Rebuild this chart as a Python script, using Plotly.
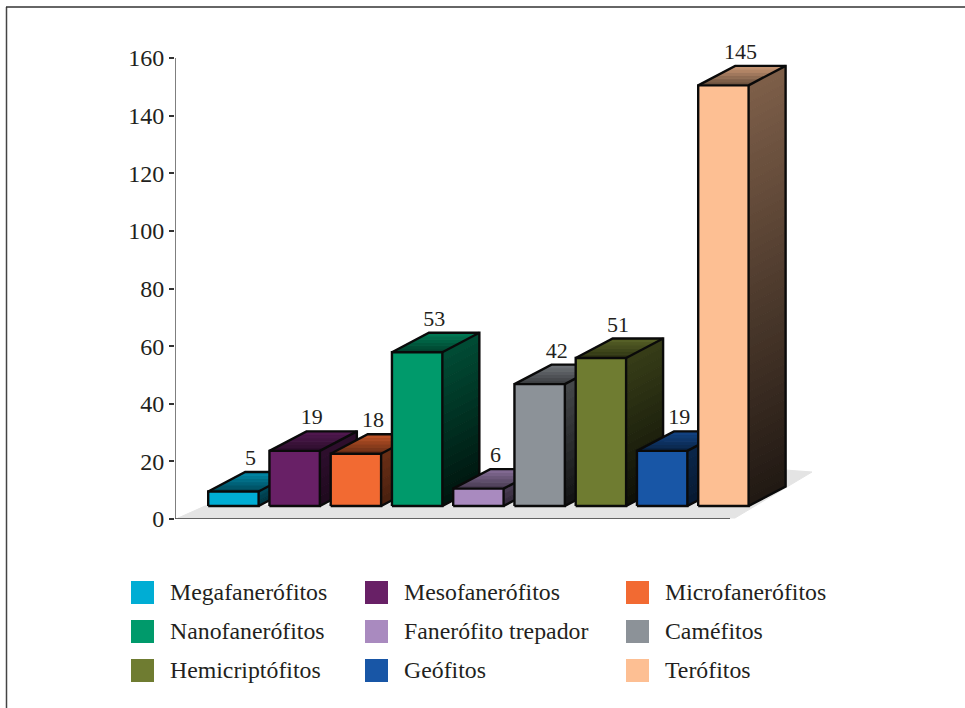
import plotly.graph_objects as go

categories = ["Megafanerófitos", "Mesofanerófitos", "Microfanerófitos",
              "Nanofanerófitos", "Fanerófito trepador", "Caméfitos",
              "Hemicriptófitos", "Geófitos", "Terófitos"]
values = [5, 19, 18, 53, 6, 42, 51, 19, 145]
colors = ["#00add4", "#682066", "#f26a32", "#009a6b", "#a98abf",
          "#8c9298", "#6f7c31", "#1856a6", "#fdbf93"]
y_ticks = [0, 20, 40, 60, 80, 100, 120, 140, 160]

W, H = 965, 708
L, R, T, B = 175, 730, 58, 519   # visible axes box, px
PR, PT = 830, 30                 # extended drawing area, px
SCALE = 160 / (B - T)            # y units per px
SLOT = 61.25          # px per category slot
FIRST = 233.4         # px centre of first category
HALF = 25.2 / SLOT    # half bar width
DX = 37 / SLOT        # depth in slots
DY = 19.5 * SCALE     # depth in y units
BASE = 4.5            # floor lift in y units
STRETCH = 1.007       # drawn height per unit of value
FONT = "Liberation Serif"
INK = "#231f20"


def rgb(c):
    return tuple(int(c[i:i + 2], 16) for i in (1, 3, 5))


def shade(c, f):
    r, g, b = rgb(c)
    return "rgb(%d,%d,%d)" % (r * f, g * f, b * f)


def mix(a, b, t):
    return a + (b - a) * t


def poly(xs, ys, color):
    return go.Scatter(x=xs + xs[:1], y=ys + ys[:1], mode="lines", fill="toself",
                      fillcolor=color, line=dict(width=1, color=color),
                      cliponaxis=False, hoverinfo="skip", showlegend=False)


def outline(xs, ys, width=2.4, color="#0a0a0a"):
    return go.Scatter(x=xs, y=ys, mode="lines", line=dict(width=width, color=color),
                      cliponaxis=False, hoverinfo="skip", showlegend=False)


fig = go.Figure()

px = lambda p: (p - FIRST) / SLOT
py = lambda p: (B - p) * SCALE

# floor
fig.add_trace(poly([px(178), px(735), px(812), px(785), px(750), px(205)],
                   [py(518), py(518), py(472), py(470), py(500), py(506)], "#e4e4e4"))

for i, (v, c) in enumerate(zip(values, colors)):
    x0, x1 = i - HALF, i + HALF
    y0, y1 = BASE, v * STRETCH + BASE
    # side face: gradient from top to bottom
    n = max(3, int(v / 3))
    for k in range(n):
        a = mix(y1, y0, k / n)
        b = mix(y1, y0, (k + 1) / n)
        ft = mix(0.5, 0.13, (k + 0.5) / n) if v > 25 else mix(0.45, 0.3, (k + 0.5) / n)
        fig.add_trace(poly([x1, x1 + DX, x1 + DX, x1],
                           [a, a + DY, b + DY, b], shade(c, ft)))
    # top face: gradient from front to back
    m = 6
    for k in range(m):
        t0, t1 = k / m, (k + 1) / m
        fig.add_trace(poly([x0 + DX * t0, x1 + DX * t0, x1 + DX * t1, x0 + DX * t1],
                           [y1 + DY * t0, y1 + DY * t0, y1 + DY * t1, y1 + DY * t1],
                           shade(c, mix(0.4, 0.8, (k + 0.5) / m))))
    # front face
    fig.add_trace(poly([x0, x1, x1, x0], [y0, y0, y1, y1], c))
    # edges
    fig.add_trace(outline([x0, x1, x1, x0, x0], [y0, y0, y1, y1, y0]))
    fig.add_trace(outline([x0, x0 + DX, x1 + DX, x1 + DX, x1, None, x1, x1 + DX],
                          [y1, y1 + DY, y1 + DY, y0 + DY, y0, None, y1, y1 + DY]))

# value labels
fig.add_trace(go.Scatter(
    x=[i + 0.28 for i in range(len(values))],
    y=[v * STRETCH + BASE + DY + 0.5 for v in values],
    mode="text", text=[str(v) for v in values], textposition="top center",
    textfont=dict(family=FONT, size=22, color=INK),
    cliponaxis=False, hoverinfo="skip", showlegend=False))

# visible axis lines stop short of the extended drawing area
fig.add_trace(outline([px(L), px(R)], [0, 0], 1.5, "#333333"))
fig.add_trace(outline([px(L), px(L)], [0, 160], 1.5, "#555555"))

pxx = lambda p: (p - L) / (PR - L)
pyy = lambda p: (B - p) / (B - PT)

# frame
shapes = [
    dict(type="line", xref="paper", yref="paper", x0=pxx(6.5), x1=pxx(6.5), y0=pyy(H), y1=pyy(7),
         line=dict(color="#444444", width=1.5)),
    dict(type="line", xref="paper", yref="paper", x0=pxx(6), x1=pxx(W), y0=pyy(7), y1=pyy(7),
         line=dict(color="#333333", width=1.5)),
]
annotations = []
col_sw = [131, 365, 626]
col_tx = [167.5, 401.5, 662.5]
row_top = [581, 620, 659]
for i, (name, c) in enumerate(zip(categories, colors)):
    col, row = i % 3, i // 3
    shapes.append(dict(type="rect", xref="paper", yref="paper",
                       x0=pxx(col_sw[col]), x1=pxx(col_sw[col] + 23),
                       y0=pyy(row_top[row]), y1=pyy(row_top[row] + 23),
                       fillcolor=c, line=dict(width=0)))
    annotations.append(dict(xref="paper", yref="paper", x=pxx(col_tx[col]),
                            y=pyy(row_top[row] + 10.5), text=name, showarrow=False,
                            xanchor="left", yanchor="middle",
                            font=dict(family=FONT, size=23.8, color=INK)))

fig.update_layout(
    width=W, height=H, autosize=False, showlegend=False,
    margin=dict(l=L, r=W - PR, t=PT, b=H - B, pad=0),
    paper_bgcolor="white", plot_bgcolor="rgba(0,0,0,0)",
    shapes=shapes, annotations=annotations,
    xaxis=dict(range=[px(L), px(PR)], showgrid=False, zeroline=False, showticklabels=False,
               ticks="", showline=False, fixedrange=True),
    yaxis=dict(range=[0, py(PT)], tickvals=y_ticks, showgrid=False, zeroline=False,
               ticks="outside", ticklen=5, tickwidth=1.5, tickcolor="#333333",
               showline=False,
               tickfont=dict(family=FONT, size=24, color=INK), fixedrange=True),
)

fig.write_html("out.html", config={"displayModeBar": False},
               post_script="document.body.style.margin='0';")
